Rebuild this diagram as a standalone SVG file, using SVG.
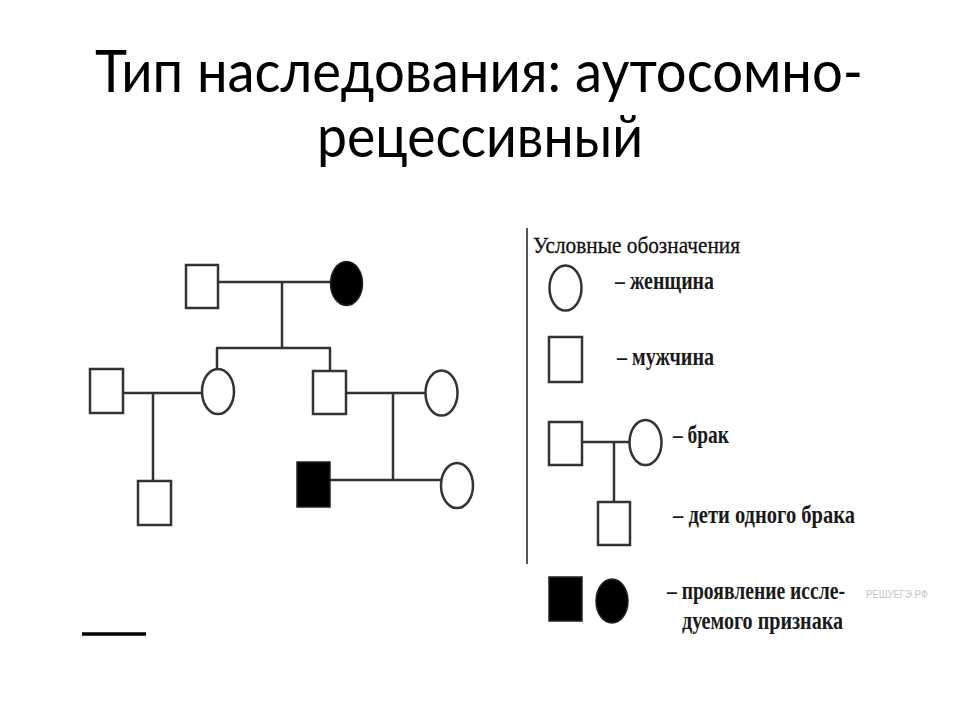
<svg xmlns="http://www.w3.org/2000/svg" width="960" height="720" viewBox="0 0 960 720">
<style>
.title{font-family:Lato,"Open Sans","Liberation Sans",sans-serif;font-size:58px;fill:#000;text-anchor:middle}
.line{stroke:#333;stroke-width:2.5;fill:none}
.open{fill:#fff;stroke:#333;stroke-width:2.5}
.fill{fill:#000;stroke:#222;stroke-width:1.5}
.leg{font-family:"Liberation Serif","DejaVu Serif",serif;fill:#111}
.legb{font-family:"Liberation Serif","DejaVu Serif",serif;font-weight:bold;fill:#1a1a1a;font-size:25px}
</style>
<rect width="960" height="720" fill="#fff"/>
<g id="title">
<text class="title" x="479" y="92" textLength="768" lengthAdjust="spacingAndGlyphs">Тип наследования: аутосомно-</text>
<text class="title" x="480" y="157" textLength="326" lengthAdjust="spacingAndGlyphs">рецессивный</text>
</g>
<g id="connectors">
<line class="line" x1="218" y1="282" x2="330" y2="282"/>
<line class="line" x1="282" y1="282" x2="282" y2="348"/>
<line class="line" x1="216" y1="348" x2="331" y2="348"/>
<line class="line" x1="217" y1="348" x2="217" y2="370"/>
<line class="line" x1="330" y1="348" x2="330" y2="371"/>
<line class="line" x1="123" y1="393" x2="202" y2="393"/>
<line class="line" x1="153" y1="393" x2="153" y2="481"/>
<line class="line" x1="346" y1="393" x2="425" y2="393"/>
<line class="line" x1="393" y1="393" x2="393" y2="480"/>
<line class="line" x1="330" y1="480" x2="441" y2="480"/>
</g>
<g id="gf"><rect class="open" x="186" y="265" width="32" height="43"/></g>
<g id="gm"><ellipse class="fill" cx="346.5" cy="283.5" rx="16" ry="22"/></g>
<g id="p1"><rect class="open" x="90" y="369" width="33" height="44"/></g>
<g id="d1"><ellipse class="open" cx="218" cy="391.5" rx="16" ry="22.5"/></g>
<g id="c1"><rect class="open" x="138" y="481" width="33" height="44"/></g>
<g id="s1"><rect class="open" x="313" y="371" width="33" height="43"/></g>
<g id="w1"><ellipse class="open" cx="441.5" cy="393" rx="16" ry="22.5"/></g>
<g id="c2"><rect class="fill" x="297" y="462" width="33" height="45"/></g>
<g id="c3"><ellipse class="open" cx="457" cy="485.5" rx="16" ry="22.5"/></g>
<g id="underline"><line x1="82" y1="634" x2="146" y2="634" stroke="#000" stroke-width="3.5"/></g>
<g id="legend">
<line x1="527" y1="228" x2="527" y2="564" stroke="#555" stroke-width="2"/>
<text class="leg" x="533" y="253" font-size="23" textLength="207" lengthAdjust="spacingAndGlyphs" stroke="#111" stroke-width="0.3">Условные обозначения</text>
<ellipse class="open" cx="565.5" cy="288" rx="16" ry="22.5"/>
<text class="legb" x="615" y="289" textLength="99" lengthAdjust="spacingAndGlyphs">– женщина</text>
<rect class="open" x="549" y="337" width="33" height="45"/>
<text class="legb" x="617" y="365" textLength="97" lengthAdjust="spacingAndGlyphs">– мужчина</text>
<rect class="open" x="549" y="422" width="33" height="43"/>
<line class="line" x1="582" y1="442" x2="629" y2="442"/>
<line class="line" x1="614" y1="442" x2="614" y2="502"/>
<ellipse class="open" cx="645.5" cy="442.5" rx="16" ry="22.5"/>
<text class="legb" x="673" y="443" textLength="56" lengthAdjust="spacingAndGlyphs">– брак</text>
<rect class="open" x="598" y="502" width="32" height="43"/>
<text class="legb" x="673" y="523" textLength="182" lengthAdjust="spacingAndGlyphs">– дети одного брака</text>
<rect class="fill" x="549" y="577" width="33" height="44"/>
<ellipse class="fill" cx="612" cy="601" rx="16" ry="22"/>
<text class="legb" transform="translate(667,599) scale(0.82,1)" x="0" y="0" textLength="217" lengthAdjust="spacingAndGlyphs">– проявление иссле-</text>
<text class="legb" x="682" y="629" textLength="161" lengthAdjust="spacingAndGlyphs">дуемого признака</text>
<text x="866" y="598" font-family="'Liberation Sans',sans-serif" font-size="10" fill="#c4c4c4" textLength="62" lengthAdjust="spacingAndGlyphs">РЕШУЕГЭ.РФ</text>
</g>
</svg>
